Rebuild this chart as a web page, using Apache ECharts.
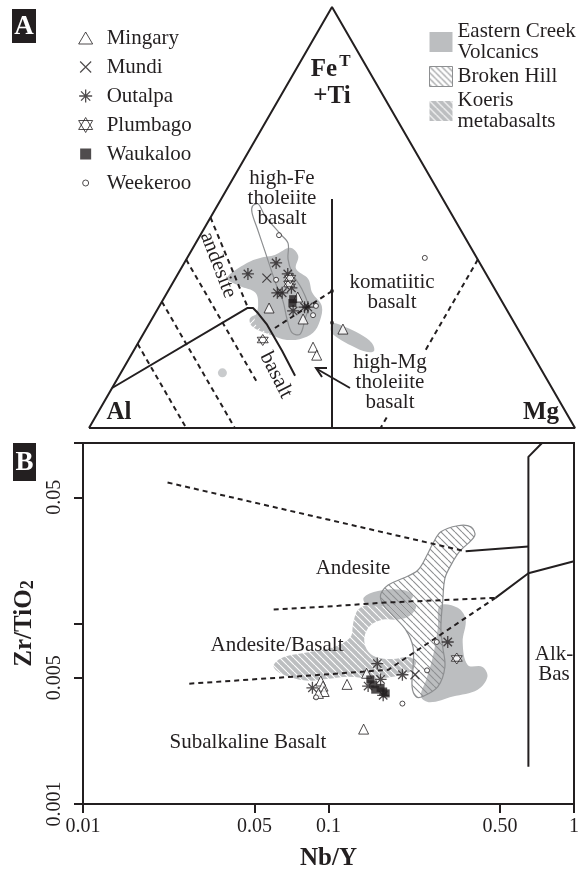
<!DOCTYPE html>
<html>
<head>
<meta charset="utf-8">
<script src="https://cdn.jsdelivr.net/npm/echarts@6/dist/echarts.min.js"></script>
<style>
  html, body { margin: 0; background: #fff; }
  #chart { width: 582px; height: 872px; }
</style>
</head>
<body>
<div id="chart"></div>
<script>
// ---- panel A: Jensen cation plot, values are [Al, FeT+Ti, Mg] in %
const sites = ['Mingary', 'Mundi', 'Outalpa', 'Plumbago', 'Waukaloo', 'Weekeroo']
const ECV = 'Eastern Creek\nVolcanics'
const BH = 'Broken Hill'
const KO = 'Koeris\nmetabasalts'

const aMingary = [[48.7, 28.5, 22.8], [41.5, 31.1, 27.4], [43, 25.9, 31.1], [36, 23.5, 40.5], [44.3, 19.2, 36.5], [44.5, 17.3, 38.2]]
const aMundi = [[45.6, 35.6, 18.8]]
const aOutalpa = [[41.9, 39.2, 18.9], [49, 36.6, 14.4], [40.8, 36.6, 22.6], [45.2, 32.1, 22.7], [44.2, 32.1, 23.7], [44.1, 27.8, 28.1], [41.3, 28.7, 30], [40.6, 28.7, 30.7], [41.7, 33.3, 25]]
const aPlumbago = [[41.7, 34.2, 24.1], [40.8, 35.6, 23.6], [53.8, 20.9, 25.3]]
const aWaukaloo = [[42.7, 30.6, 26.7], [43.3, 29.7, 27]]
const aWeekeroo = [[38, 45.8, 16.2], [43.9, 35.2, 20.9], [40.5, 26.8, 32.7], [10.7, 40.4, 48.9], [38.8, 29, 32.2]]

const aEcvMain = [[53.8, 35.6, 10.6], [47.9, 39.2, 12.9], [44.6, 40.4, 15], [41.2, 41.1, 17.7], [37.2, 42.8, 20], [36.5, 40.9, 22.6], [38.5, 37.8, 23.7], [37.2, 35.4, 27.4], [38, 32.1, 29.9], [37.6, 29, 33.4], [39.8, 25.4, 34.8], [42.6, 22.6, 34.8], [46.1, 21.1, 32.8], [49.6, 21.1, 29.3], [51.9, 22.6, 25.5], [53.4, 24.9, 21.7], [50.7, 29, 20.3], [49.7, 32.1, 18.2], [52.1, 33.7, 14.2]]
const aEcvBlob = [[37.4, 24.9, 37.7], [35.3, 24, 40.7], [33.1, 22.3, 44.6], [31.7, 20.2, 48.1], [32.2, 18.3, 49.5], [33.9, 18.1, 48], [36.1, 19.5, 44.4], [38.1, 21.4, 40.5], [38.7, 23, 38.3]]
const aEcvDot = [[66, 13.1, 20.9]]
const aBrokenHill = [[40, 52.7, 7.3], [38.6, 53.2, 8.2], [38.6, 50.4, 11], [37.6, 46.1, 16.3], [37.1, 43.9, 19], [39, 40.1, 20.9], [39.8, 36.8, 23.4], [39.7, 33, 27.3], [40.4, 29, 30.6], [42.6, 25.9, 31.5], [45.4, 22.3, 32.3], [46.9, 22.6, 30.5], [46.3, 25.9, 27.8], [45, 30.2, 24.8], [44.6, 33.3, 22.1], [43.9, 36.8, 19.3], [42.8, 42, 15.2], [41.8, 46.8, 11.4], [40.9, 51.1, 8]]
const aKoeris = [[53.8, 26.1, 20.1], [50.8, 27.3, 21.9], [46.2, 29, 24.8], [42.1, 29, 28.9], [40.2, 26.6, 33.2], [42.4, 23, 34.6], [45.8, 21.6, 32.6], [49.4, 21.4, 29.2], [52.5, 22.6, 24.9], [54.4, 24.2, 21.4]]

const aFrame = [[100, 0, 0], [0, 100, 0], [0, 0, 100], [100, 0, 0]]
const aKomLine = [[22.8, 54.4, 22.8], [50, 0, 50]]
const aCaCurve = [[90.5, 9.5, 0], [53.2, 28.5, 18.3], [52, 28.5, 19.5], [51.6, 27.3, 21.1], [51.1, 24.7, 24.2], [51.1, 18.3, 30.6], [51.4, 12.4, 36.2]]
const aDashed = [
  [[80, 20, 0], [80, 0, 20]],
  [[70, 30, 0], [70, 0, 30]],
  [[60, 40, 0], [60, 10.5, 29.5]],
  [[50, 50, 0], [53, 28.7, 18.3]],
  [[33.7, 32.5, 33.7], [50.7, 23.3, 26]],
  [[0, 40, 60], [21.5, 18.5, 60]],
  [[37.5, 2.5, 60], [40, 0, 60]]
]
const aNodes = [[33.7, 32.5, 33.7], [37.5, 25, 37.5]]

// ---- panel B: [Nb/Y, Zr/TiO2]
const bMingary = [[0.093, 0.0048], [0.095, 0.0045], [0.096, 0.0042], [0.091, 0.0041], [0.119, 0.0046], [0.143, 0.0053], [0.139, 0.0026]]
const bMundi = [[0.225, 0.0052]]
const bOutalpa = [[0.086, 0.0044], [0.158, 0.0060], [0.20, 0.0052], [0.306, 0.0079], [0.145, 0.0045], [0.163, 0.0049], [0.167, 0.0040]]
const bPlumbago = [[0.333, 0.0064]]
const bWaukaloo = [[0.148, 0.0049], [0.152, 0.0046], [0.163, 0.0044], [0.167, 0.0042], [0.155, 0.0043], [0.171, 0.0041]]
const bWeekeroo = [[0.089, 0.0039], [0.20, 0.0036], [0.252, 0.0055], [0.276, 0.0079]]

const bEcvRight = [[0.284, 0.01254], [0.336, 0.01222], [0.362, 0.01052], [0.352, 0.00787], [0.369, 0.00589], [0.424, 0.00575], [0.444, 0.00507], [0.405, 0.0043], [0.321, 0.00394], [0.259, 0.00366], [0.238, 0.00394], [0.25, 0.00488], [0.266, 0.00652], [0.279, 0.00951]]
const bEcvTop = [[0.139, 0.01387], [0.159, 0.01514], [0.201, 0.01535], [0.221, 0.01422], [0.201, 0.01286], [0.145, 0.01254]]
const bKoeris = [[0.0598, 0.00589], [0.0658, 0.00652], [0.083, 0.00694], [0.1047, 0.00739], [0.1227, 0.00838], [0.1262, 0.0101], [0.1322, 0.01194], [0.148, 0.01286], [0.175, 0.01336], [0.201, 0.01336], [0.227, 0.01254], [0.215, 0.01106], [0.192, 0.01052], [0.167, 0.01052], [0.148, 0.00975], [0.14, 0.00838], [0.143, 0.00721], [0.156, 0.00652], [0.183, 0.00636], [0.211, 0.00652], [0.227, 0.00612], [0.215, 0.0054], [0.183, 0.00507], [0.152, 0.00494], [0.1205, 0.00507], [0.1, 0.00494], [0.083, 0.00482], [0.0689, 0.00507], [0.0615, 0.00547]]
const bBrokenHill = [[0.163, 0.0144], [0.175, 0.01634], [0.201, 0.0178], [0.231, 0.01972], [0.254, 0.02443], [0.266, 0.02773], [0.287, 0.0322], [0.336, 0.0348], [0.38, 0.0343], [0.394, 0.0306], [0.342, 0.02506], [0.315, 0.021], [0.298, 0.0178], [0.292, 0.01336], [0.287, 0.00951], [0.292, 0.00739], [0.298, 0.00575], [0.279, 0.00447], [0.242, 0.00394], [0.227, 0.00394], [0.219, 0.00447], [0.221, 0.00575], [0.221, 0.00739], [0.207, 0.00916], [0.183, 0.01106], [0.167, 0.0127]]

const bUpperDash = [[0.0221, 0.0604], [0.362, 0.0251]]
const bUpperSolid = [[0.362, 0.0251], [0.652, 0.0267]]
const bAlkLine = [[0.652, 0.00161], [0.652, 0.0838], [0.741, 0.1]]
const bMidDash = [[0.0598, 0.01195], [0.1097, 0.01253], [0.164, 0.01303], [0.479, 0.01387]]
const bMidSolid = [[0.479, 0.01387], [0.652, 0.019], [1, 0.0221]]
const bLowDash = [[0.0271, 0.00464], [0.0937, 0.0052], [0.175, 0.00554], [0.479, 0.01387]]

const xTicks = [0.01, 0.05, 0.1, 0.5, 1]
const xTickLabels = ['0.01', '0.05', '0.1', '0.50', '1']
const yTicks = [0.001, 0.005, 0.01, 0.05, 0.1]
const yLabelTicks = [0.001, 0.005, 0.05]
const yTickLabels = ['0.001', '0.005', '0.05']

// ---- styling
const FONT = '"Liberation Serif", "Times New Roman", serif'
const INK = '#231f20'
const GRAY = '#bcbec0'
const HATCH = '#8d8f91'
const S3 = Math.sqrt(3) / 2

function tern(p) {
  const t = p[0] + p[1] + p[2]
  const fe = p[1] / t
  const mg = p[2] / t
  return [mg + fe / 2, fe * S3]
}

function hatch(bg, fg, step, back) {
  const c = document.createElement('canvas')
  c.width = c.height = step
  const g = c.getContext('2d')
  if (bg) {
    g.fillStyle = bg
    g.fillRect(0, 0, step, step)
  }
  g.strokeStyle = fg
  g.lineWidth = 1.1
  g.beginPath()
  for (const o of [-step, 0, step]) {
    if (back) { g.moveTo(o, 0); g.lineTo(o + step, step) } else { g.moveTo(o + step, 0); g.lineTo(o, step) }
  }
  g.stroke()
  return { image: c, repeat: 'repeat' }
}

const koFill = hatch(GRAY, '#ffffff', 7, true)
const koFillA = hatch(GRAY, '#ffffff', 7, false)
const bhFill = hatch(null, HATCH, 7, true)
const bhLegend = hatch('#ffffff', HATCH, 6, true)

// plot symbols, and legend icons padded to a 16px box so each keeps its own size
const marks = {
  Mingary: {
    symbol: 'triangle', size: 10, style: { color: '#fff', borderColor: INK, borderWidth: 1 },
    icon: 'path://M0,0M16,16M8,2L15,14L1,14Z'
  },
  Mundi: {
    symbol: 'path://M0,0L10,10M10,0L0,10', size: 9, style: { color: 'rgba(0,0,0,0)', borderColor: INK, borderWidth: 1.2 },
    icon: 'path://M0,0M16,16M2.5,2.5L13.5,13.5M13.5,2.5L2.5,13.5'
  },
  Outalpa: {
    symbol: 'path://M5,0L5,10M0,5L10,5M1.5,1.5L8.5,8.5M8.5,1.5L1.5,8.5', size: 12, style: { color: 'rgba(0,0,0,0)', borderColor: INK, borderWidth: 1.3 },
    icon: 'path://M0,0M16,16M8,1.5L8,14.5M1.5,8L14.5,8M3.4,3.4L12.6,12.6M12.6,3.4L3.4,12.6'
  },
  Plumbago: {
    symbol: 'path://M5,0L9.33,7.5L0.67,7.5ZM5,10L0.67,2.5L9.33,2.5Z', size: 11, style: { color: '#fff', borderColor: INK, borderWidth: 1 },
    icon: 'path://M0,0M16,16M8,0.5L15,12.5L1,12.5ZM8,15.5L1,3.5L15,3.5Z'
  },
  Waukaloo: {
    symbol: 'rect', size: 8, style: { color: INK },
    icon: 'path://M0,0M16,16M2.5,2.5L13.5,2.5L13.5,13.5L2.5,13.5Z'
  },
  Weekeroo: {
    symbol: 'circle', size: 5, style: { color: '#fff', borderColor: INK, borderWidth: 1 },
    icon: 'path://M0,0M16,16M11,8A3,3,0,1,1,5,8A3,3,0,1,1,11,8Z'
  }
}

function points(name, data, i) {
  const m = marks[name]
  return {
    type: 'scatter', name, xAxisIndex: i, yAxisIndex: i, z: 6, silent: true,
    data: i === 0 ? data.map(tern) : data,
    symbol: m.symbol, symbolSize: m.size, itemStyle: m.style
  }
}

function field(name, pts, i, style, smooth) {
  const xy = i === 0 ? pts.map(tern) : pts
  return {
    type: 'custom', name, xAxisIndex: i, yAxisIndex: i, z: 1, silent: true,
    data: [xy[0]],
    renderItem: (params, api) => ({
      type: 'polygon',
      shape: { points: xy.map(p => api.coord(p)), smooth: smooth == null ? 0.35 : smooth },
      style
    })
  }
}

function line(pts, i, dashed, width) {
  return {
    type: 'line', xAxisIndex: i, yAxisIndex: i, z: 3, silent: true,
    data: i === 0 ? pts.map(tern) : pts,
    symbol: 'none',
    lineStyle: { color: INK, width: width || 2, type: dashed ? [5, 4] : 'solid' }
  }
}

function txt(x, y, text, size, extra) {
  extra = extra || {}
  const el = {
    type: 'text', x, y, silent: true, z: 20,
    style: {
      text, x: 0, y: 0, align: 'center', verticalAlign: 'middle', textAlign: 'center', textVerticalAlign: 'middle',
      fontFamily: FONT, fontSize: size || 21, lineHeight: 20, fill: extra.fill || INK,
      fontWeight: extra.bold ? 'bold' : 'normal'
    }
  }
  if (extra.rot) el.rotation = extra.rot
  return el
}

const pickLabel = (ticks, labels) => v => {
  const k = ticks.findIndex(t => Math.abs(Math.log10(t) - Math.log10(v)) < 1e-6)
  return k < 0 ? '' : labels[k]
}

const series = [
  field(KO, aKoeris, 0, { fill: koFillA }),
  field(ECV, aEcvMain, 0, { fill: GRAY }),
  field(ECV, aEcvBlob, 0, { fill: GRAY }),
  { type: 'scatter', name: ECV, xAxisIndex: 0, yAxisIndex: 0, z: 1, silent: true, data: aEcvDot.map(tern), symbolSize: 9, itemStyle: { color: GRAY } },
  field(BH, aBrokenHill, 0, { fill: 'rgba(0,0,0,0)', stroke: HATCH, lineWidth: 1.2 }),
  line(aFrame, 0, false),
  line(aKomLine, 0, false),
  line(aCaCurve, 0, false),
  ...aDashed.map(d => line(d, 0, true)),
  { type: 'scatter', xAxisIndex: 0, yAxisIndex: 0, z: 4, silent: true, data: aNodes.map(tern), symbolSize: 4, itemStyle: { color: INK } },
  ...sites.map(s => points(s, { Mingary: aMingary, Mundi: aMundi, Outalpa: aOutalpa, Plumbago: aPlumbago, Waukaloo: aWaukaloo, Weekeroo: aWeekeroo }[s], 0)),

  field(KO, bKoeris, 1, { fill: koFill }),
  field(ECV, bEcvRight, 1, { fill: GRAY }),
  field(ECV, bEcvTop, 1, { fill: GRAY }),
  field(BH, bBrokenHill, 1, { fill: bhFill, stroke: HATCH, lineWidth: 1.2 }),
  line(bUpperDash, 1, true),
  line(bUpperSolid, 1, false),
  line(bAlkLine, 1, false),
  line(bMidDash, 1, true),
  line(bMidSolid, 1, false),
  line(bLowDash, 1, true),
  ...sites.map(s => points(s, { Mingary: bMingary, Mundi: bMundi, Outalpa: bOutalpa, Plumbago: bPlumbago, Waukaloo: bWaukaloo, Weekeroo: bWeekeroo }[s], 1))
]

const chart = echarts.init(document.getElementById('chart'))
chart.setOption({
  animation: false,
  backgroundColor: '#fff',
  grid: [
    { left: 89, top: 7, width: 486, height: 421 },
    { left: 83, top: 443, width: 494, height: 366, show: true, borderColor: INK, borderWidth: 2, backgroundColor: 'rgba(0,0,0,0)' }
  ],
  xAxis: [
    { gridIndex: 0, type: 'value', min: 0, max: 1, show: false },
    {
      gridIndex: 1, type: 'log', logBase: 10, min: 0.01, max: 1,
      axisLine: { lineStyle: { color: INK, width: 2 } },
      axisTick: { customValues: xTicks, length: 9, lineStyle: { color: INK, width: 2 } },
      axisLabel: { customValues: xTicks, formatter: pickLabel(xTicks, xTickLabels), fontFamily: FONT, fontSize: 20, color: INK, margin: 13 },
      splitLine: { show: false },
      minorTick: { show: false },
      name: 'Nb/Y', nameLocation: 'middle', nameGap: 42,
      nameTextStyle: { fontFamily: FONT, fontSize: 25, fontWeight: 'bold', color: INK }
    }
  ],
  yAxis: [
    { gridIndex: 0, type: 'value', min: 0, max: S3, show: false },
    {
      gridIndex: 1, type: 'log', logBase: 10, min: 0.001, max: 0.1,
      axisLine: { lineStyle: { color: INK, width: 2 } },
      axisTick: { customValues: yTicks, length: 9, lineStyle: { color: INK, width: 2 } },
      axisLabel: { customValues: yLabelTicks, formatter: pickLabel(yLabelTicks, yTickLabels), rotate: 90, fontFamily: FONT, fontSize: 20, color: INK, margin: 18 },
      splitLine: { show: false },
      minorTick: { show: false },
      name: '{b|Zr/TiO}{s|2}', nameLocation: 'middle', nameGap: 38, nameRotate: 90,
      nameTextStyle: {
        color: INK,
        rich: {
          b: { fontFamily: FONT, fontSize: 25, fontWeight: 'bold', color: INK },
          s: { fontFamily: FONT, fontSize: 18, fontWeight: 'bold', color: INK, padding: [8, 0, 0, 0] }
        }
      }
    }
  ],
  legend: [
    {
      data: sites.map(s => ({ name: s, icon: marks[s].icon, itemStyle: marks[s].style })),
      orient: 'vertical', left: 72, top: 22, itemWidth: 16, itemHeight: 16, itemGap: 7,
      selectedMode: false,
      textStyle: { fontFamily: FONT, fontSize: 21, color: INK, lineHeight: 22, padding: [0, 0, 0, 8] }
    },
    {
      data: [
        { name: ECV, icon: 'rect', itemStyle: { color: GRAY } },
        { name: BH, icon: 'rect', itemStyle: { color: bhLegend, borderColor: HATCH, borderWidth: 1 } },
        { name: KO, icon: 'rect', itemStyle: { color: koFill } }
      ],
      orient: 'vertical', left: 424, top: 16, itemWidth: 23, itemHeight: 20, itemGap: 3,
      selectedMode: false,
      textStyle: { fontFamily: FONT, fontSize: 21, color: INK, lineHeight: 21 }
    }
  ],
  graphic: [
    { type: 'rect', shape: { x: 12, y: 9, width: 24, height: 34 }, style: { fill: INK }, silent: true },
    txt(24, 27, 'A', 27, { bold: true, fill: '#fff' }),
    { type: 'rect', shape: { x: 13, y: 443, width: 23, height: 38 }, style: { fill: INK }, silent: true },
    txt(24.5, 463, 'B', 27, { bold: true, fill: '#fff' }),
    txt(324, 70, 'Fe', 25, { bold: true }),
    txt(345, 62, 'T', 17, { bold: true }),
    txt(332, 97, '+Ti', 25, { bold: true }),
    txt(119, 413, 'Al', 25, { bold: true }),
    txt(541, 413, 'Mg', 25, { bold: true }),
    txt(282, 198, 'high-Fe\ntholeiite\nbasalt', 21),
    txt(392, 292, 'komatiitic\nbasalt', 21),
    txt(390, 382, 'high-Mg\ntholeiite\nbasalt', 21),
    txt(218, 265, 'andesite', 21, { rot: -1.2 }),
    txt(276, 375, 'basalt', 21, { rot: -1.1 }),
    { type: 'polyline', shape: { points: [[350, 388], [317, 369]] }, style: { stroke: INK, lineWidth: 2, fill: null }, silent: true },
    { type: 'polyline', shape: { points: [[322, 377], [316, 368], [327, 368]] }, style: { stroke: INK, lineWidth: 2, fill: null }, silent: true },
    txt(353, 568, 'Andesite', 21),
    txt(277, 645, 'Andesite/Basalt', 21),
    txt(248, 742, 'Subalkaline Basalt', 21),
    txt(554, 664, 'Alk-\nBas', 21)
  ],
  series
})
</script>
</body>
</html>
